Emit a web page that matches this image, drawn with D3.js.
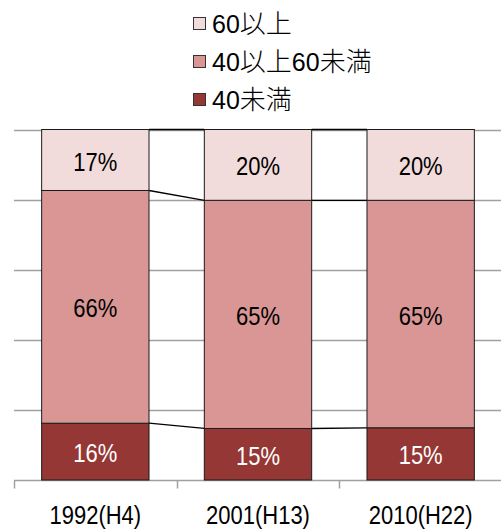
<!DOCTYPE html>
<html>
<head>
<meta charset="utf-8">
<script src="https://cdn.jsdelivr.net/npm/d3@7"></script>
<style>
  html, body { margin: 0; padding: 0; background: #fff; }
  svg { display: block; }
  text { font-family: "Liberation Sans", Arial, "Noto Sans CJK JP", sans-serif; }
</style>
</head>
<body>
<svg id="chart" width="501" height="532"></svg>
<script>
// ---- data ----
const categories = ["1992(H4)", "2001(H13)", "2010(H22)"];
const seriesNames = ["40未満", "40以上60未満", "60以上"];   // bottom to top
const under40 = [16.2, 14.7, 14.9];
const from40to60 = [66.4, 65.1, 64.9];
const over60 = [17.4, 20.2, 20.2];
const legendOrder = ["60以上", "40以上60未満", "40未満"];
const yTicks = [0, 20, 40, 60, 80, 100];
const colors = ["#953735", "#d99694", "#f2dcdb"];
const labelColors = ["#ffffff", "#000000", "#000000"];

// ---- build table ----
const table = categories.map((c, i) => ({
  cat: c,
  "40未満": under40[i],
  "40以上60未満": from40to60[i],
  "60以上": over60[i]
}));
const stacked = d3.stack().keys(seriesNames)(table);

const svg = d3.select("#chart");
const margin = { left: 14, top: 129.5 };
const W = 501;

const x = d3.scaleBand().domain(categories)
  .range([margin.left, 502])
  .paddingInner(0.34).paddingOuter(0.17);
const y = d3.scaleLinear().domain([0, 100]).range([480, margin.top]);

const FS = 25, SX = 0.88;  // font size and horizontal condensation

function label(g, tx, ty, str, color) {
  g.append("g")
    .attr("transform", `translate(${tx},${ty}) scale(${SX},1)`)
    .append("text")
    .attr("text-anchor", "middle")
    .attr("dy", "0.36em")
    .attr("font-size", FS)
    .attr("fill", color)
    .text(str);
}

// gridlines
svg.append("g").selectAll("line").data(yTicks.filter(t => t > 0)).join("line")
  .attr("x1", margin.left).attr("x2", W)
  .attr("y1", d => Math.round(y(d)) + 0.5).attr("y2", d => Math.round(y(d)) + 0.5)
  .attr("stroke", "#a0a0a0").attr("stroke-width", 1.5);

// x axis
const xAxisG = svg.append("g").attr("transform", "translate(0,480.5)");
xAxisG.append("line").attr("x1", margin.left).attr("x2", W)
  .attr("stroke", "#a0a0a0").attr("stroke-width", 1.5);
const step = x.step();
const boundaries = d3.range(categories.length + 1).map(i => x(categories[0]) - step * x.paddingInner() / 2 + i * step);
xAxisG.selectAll("line.tick").data(boundaries).join("line").attr("class", "tick")
  .attr("x1", d => Math.round(d) + 0.5).attr("x2", d => Math.round(d) + 0.5)
  .attr("y1", 0).attr("y2", 8)
  .attr("stroke", "#a0a0a0").attr("stroke-width", 1.5);
categories.forEach(c => label(svg, x(c) + x.bandwidth() / 2, 515, c, "#000"));

// connector lines between bars
stacked.forEach(s => {
  for (let i = 0; i < categories.length - 1; i++) {
    svg.append("line")
      .attr("x1", x(categories[i]) + x.bandwidth())
      .attr("x2", x(categories[i + 1]))
      .attr("y1", y(s[i][1])).attr("y2", y(s[i + 1][1]))
      .attr("stroke", "#000").attr("stroke-width", 1.3);
  }
});

// bars
stacked.forEach((s, si) => {
  svg.append("g").selectAll("rect").data(s).join("rect")
    .attr("x", d => x(d.data.cat))
    .attr("width", x.bandwidth())
    .attr("y", d => y(d[1]))
    .attr("height", d => y(d[0]) - y(d[1]))
    .attr("fill", colors[si])
    .attr("stroke", "#1a1a1a").attr("stroke-width", 1);
});

// value labels
stacked.forEach((s, si) => {
  s.forEach(d => {
    const v = d[1] - d[0];
    label(svg, x(d.data.cat) + x.bandwidth() / 2, (y(d[0]) + y(d[1])) / 2 + 1.5,
      Math.round(v) + "%", labelColors[si]);
  });
});

// legend
const legendY = [24, 62, 100];
legendOrder.forEach((name, i) => {
  const ci = seriesNames.indexOf(name);
  svg.append("rect")
    .attr("x", 193.5).attr("y", legendY[i] - 6.5)
    .attr("width", 12).attr("height", 12)
    .attr("fill", colors[ci]).attr("stroke", "#333").attr("stroke-width", 1);
  const t = svg.append("text")
    .attr("x", 212).attr("y", legendY[i]).attr("dy", "0.36em")
    .attr("font-size", FS).attr("fill", "#000");
  // split into digit runs and CJK runs
  (name.match(/[0-9]+|[^0-9]+/g) || []).forEach(part => {
    const sp = t.append("tspan").text(part);
    if (!/[0-9]/.test(part)) {
      sp.attr("font-size", 26).attr("font-weight", 300)
        .attr("font-family", "'Noto Sans CJK JP', sans-serif");
    }
  });
});
</script>
</body>
</html>
